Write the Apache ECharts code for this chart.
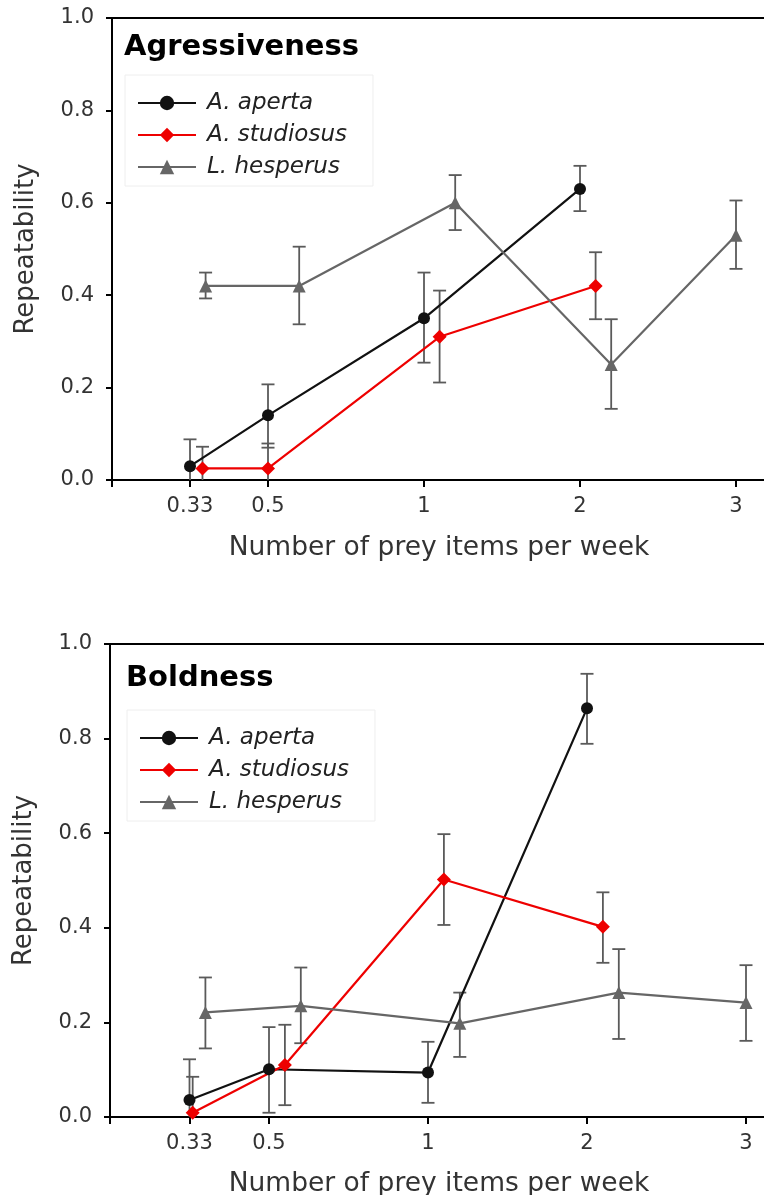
<!DOCTYPE html>
<html><head><meta charset="utf-8">
<script src="https://cdn.jsdelivr.net/npm/echarts@6/dist/echarts.min.js"></script>
<style>html,body{margin:0;padding:0;background:#fff;overflow:hidden;width:764px;height:1195px}#c{width:830px;height:1195px}</style>
</head><body><div id="c"></div>
<script>
// ---- axis ticks (axis position -> label) ----
const tickPositions = [0.5, 1, 2, 3, 4];
const tickLabels = ['0.33', '0.5', '1', '2', '3'];
const speciesNames = ['A. aperta', 'A. studiosus', 'L. hesperus'];
const panelTitles = ['Agressiveness', 'Boldness'];
const xAxisTitle = 'Number of prey items per week';
const yAxisTitle = 'Repeatability';

// ---- Agressiveness (x = dodged axis position) ----
const aggApertaX = [0.5, 1, 2, 3];
const aggApertaY = [0.03, 0.14, 0.35, 0.63];
const aggApertaLo = [-0.025, 0.07, 0.254, 0.582];
const aggApertaHi = [0.088, 0.207, 0.449, 0.68];

const aggStudiosusX = [0.58, 1.0, 2.1, 3.1];
const aggStudiosusY = [0.025, 0.025, 0.31, 0.42];
const aggStudiosusLo = [-0.022, -0.03, 0.211, 0.348];
const aggStudiosusHi = [0.072, 0.079, 0.41, 0.493];

const aggHesperusX = [0.6, 1.2, 2.2, 3.2, 4.0];
const aggHesperusY = [0.42, 0.42, 0.60, 0.25, 0.53];
const aggHesperusLo = [0.393, 0.337, 0.541, 0.154, 0.457];
const aggHesperusHi = [0.449, 0.505, 0.66, 0.348, 0.605];

// ---- Boldness ----
const boldApertaX = [0.5, 1, 2, 3];
const boldApertaY = [0.036, 0.101, 0.094, 0.864];
const boldApertaLo = [-0.05, 0.009, 0.03, 0.789];
const boldApertaHi = [0.122, 0.19, 0.159, 0.937];

const boldStudiosusX = [0.52, 1.1, 2.1, 3.1];
const boldStudiosusY = [0.009, 0.11, 0.502, 0.402];
const boldStudiosusLo = [-0.07, 0.025, 0.406, 0.326];
const boldStudiosusHi = [0.085, 0.195, 0.598, 0.475];

const boldHesperusX = [0.6, 1.2, 2.2, 3.2, 4.0];
const boldHesperusY = [0.221, 0.235, 0.198, 0.263, 0.242];
const boldHesperusLo = [0.145, 0.156, 0.127, 0.165, 0.161];
const boldHesperusHi = [0.295, 0.316, 0.263, 0.355, 0.321];

const FONT = 'DejaVu Sans';
const styles = [
  {color: '#111111', symbol: 'circle', size: 12},
  {color: '#ee0000', symbol: 'diamond', size: 14},
  {color: '#666666', symbol: 'triangle', size: 13}
];
const errColor = '#5a5a5a';

function lineSeries(panel, k, xs, ys) {
  return {
    type: 'line', name: speciesNames[k], xAxisIndex: panel, yAxisIndex: panel,
    data: xs.map((x, i) => [x, ys[i]]),
    symbol: styles[k].symbol, symbolSize: styles[k].size,
    showSymbol: true,
    lineStyle: {color: styles[k].color, width: 2.2},
    itemStyle: {color: styles[k].color},
    z: 3, animation: false
  };
}
function errSeries(panel, k, xs, lo, hi) {
  return {
    type: 'custom', name: 'err' + panel + k, xAxisIndex: panel, yAxisIndex: panel,
    data: xs.map((x, i) => [x, lo[i], hi[i]]),
    clip: true, z: 2, silent: true, animation: false,
    renderItem: function (params, api) {
      const p1 = api.coord([api.value(0), api.value(1)]);
      const p2 = api.coord([api.value(0), api.value(2)]);
      const hw = 6.5;
      const st = {stroke: errColor, lineWidth: 1.8};
      return {type: 'group', children: [
        {type: 'line', shape: {x1: p1[0], y1: p1[1], x2: p2[0], y2: p2[1]}, style: st},
        {type: 'line', shape: {x1: p1[0] - hw, y1: p1[1], x2: p1[0] + hw, y2: p1[1]}, style: st},
        {type: 'line', shape: {x1: p2[0] - hw, y1: p2[1], x2: p2[0] + hw, y2: p2[1]}, style: st}
      ]};
    }
  };
}

const panels = [
  {x: [aggApertaX, aggStudiosusX, aggHesperusX], y: [aggApertaY, aggStudiosusY, aggHesperusY],
   lo: [aggApertaLo, aggStudiosusLo, aggHesperusLo], hi: [aggApertaHi, aggStudiosusHi, aggHesperusHi]},
  {x: [boldApertaX, boldStudiosusX, boldHesperusX], y: [boldApertaY, boldStudiosusY, boldHesperusY],
   lo: [boldApertaLo, boldStudiosusLo, boldHesperusLo], hi: [boldApertaHi, boldStudiosusHi, boldHesperusHi]}
];

const series = [];
panels.forEach((p, pi) => {
  for (let k = 0; k < 3; k++) series.push(errSeries(pi, k, p.x[k], p.lo[k], p.hi[k]));
  for (let k = 0; k < 3; k++) series.push(lineSeries(pi, k, p.x[k], p.y[k]));
});

const XMAX = 4.25;
const grids = [
  {left: 112, top: 18, width: XMAX * 156, height: 462},
  {left: 110, top: 644, width: XMAX * 159, height: 473}
].map(g => Object.assign(g, {show: true, borderColor: '#000', borderWidth: 2, backgroundColor: 'transparent'}));

function xAxis(i) {
  return {
    type: 'value', gridIndex: i, min: 0, max: XMAX,
    axisLine: {show: true, lineStyle: {color: '#000', width: 2}},
    axisTick: {show: true, customValues: [0].concat(tickPositions), length: 7, lineStyle: {color: '#000', width: 2}},
    axisLabel: {customValues: tickPositions, formatter: v => tickLabels[tickPositions.indexOf(v)],
      fontSize: 21, color: '#333', margin: 16, fontFamily: FONT},
    splitLine: {show: false}
  };
}
function yAxis(i) {
  return {
    type: 'value', gridIndex: i, min: 0, max: 1, interval: 0.2,
    axisLine: {show: true, lineStyle: {color: '#000', width: 2}},
    axisTick: {show: true, length: 6, lineStyle: {color: '#000', width: 2}},
    axisLabel: {formatter: v => v.toFixed(1), fontSize: 21, color: '#333', margin: 18, fontFamily: FONT},
    splitLine: {show: false},
    name: yAxisTitle, nameLocation: 'middle', nameGap: 73,
    nameTextStyle: {fontSize: 26, color: '#333', fontFamily: FONT}
  };
}

function legend(left, top) {
  return {
    data: speciesNames, orient: 'vertical', left: left, top: top,
    itemWidth: 58, itemHeight: 18, itemGap: 8,
    padding: [16, 26, 7, 12],
    borderColor: '#eeeeee', borderWidth: 1, backgroundColor: '#fff',
    selectedMode: false,
    textStyle: {fontSize: 23, fontStyle: 'italic', color: '#222', fontFamily: FONT, lineHeight: 24, padding: [0, 0, 0, 6]}
  };
}

const chart = echarts.init(document.getElementById('c'), null, {renderer: 'canvas'});
chart.setOption({
  backgroundColor: '#fff',
  animation: false,
  title: [
    {text: panelTitles[0], left: 124, top: 33, padding: 0, textStyle: {fontSize: 29, fontWeight: 'bold', color: '#000', fontFamily: FONT}},
    {text: panelTitles[1], left: 126, top: 664, padding: 0, textStyle: {fontSize: 29, fontWeight: 'bold', color: '#000', fontFamily: FONT}},
    // x-axis titles centred on the visible part of the page (the plot runs past the right edge)
    {text: xAxisTitle, left: 439, top: 535, textAlign: 'center', padding: 0, textStyle: {fontSize: 26.5, fontWeight: 'normal', color: '#333', fontFamily: FONT}},
    {text: xAxisTitle, left: 439, top: 1171, textAlign: 'center', padding: 0, textStyle: {fontSize: 26.5, fontWeight: 'normal', color: '#333', fontFamily: FONT}}
  ],
  legend: [legend(125, 75), legend(127, 710)],
  grid: grids,
  xAxis: [xAxis(0), xAxis(1)],
  yAxis: [yAxis(0), yAxis(1)],
  series: series
});
</script>
</body></html>
